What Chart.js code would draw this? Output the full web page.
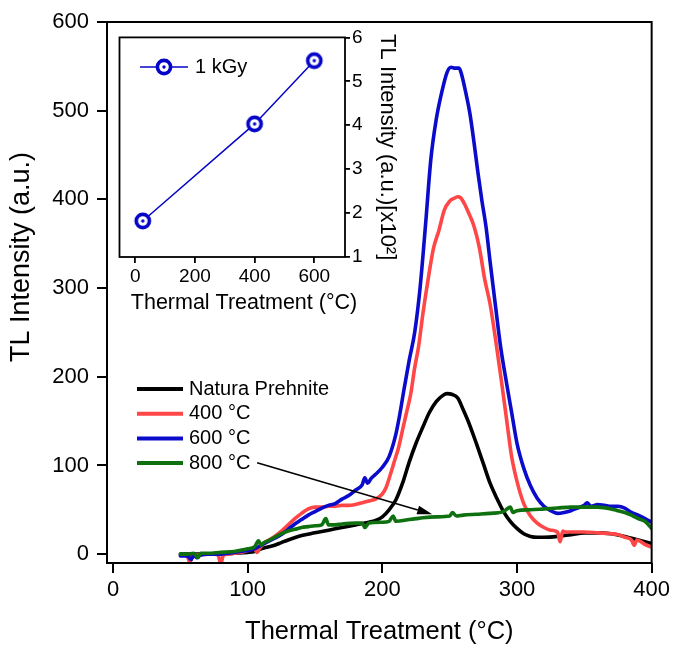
<!DOCTYPE html>
<html>
<head>
<meta charset="utf-8">
<title>TL glow curves</title>
<script src="https://cdn.jsdelivr.net/npm/chart.js@4.4.0/dist/chart.umd.min.js"></script>
<style>
  body { margin: 0; background: #fff; }
  #wrap { position: relative; width: 674px; height: 645px; }
  #inset { position: absolute; left: 110px; top: 24px; }
</style>
</head>
<body>
<div id="wrap">
  <canvas id="main" width="674" height="645"></canvas>
  <canvas id="inset" width="300" height="296"></canvas>
</div>
<script>
// glow curves: temperature (°C) and TL intensity (a.u.)
const naturalX = [50, 60, 70, 80, 90, 100, 105, 110, 115, 120, 125, 130, 140, 150, 160, 170, 180, 190, 195, 200, 205, 210, 215, 220, 225, 230, 235, 240, 245, 248, 252, 256, 260, 265, 270, 275, 280, 285, 290, 295, 300, 305, 310, 315, 320, 330, 340, 350, 360, 370, 380, 390, 400];
const naturalY = [0, 0, 0, 0, 1, 2, 3, 6, 8, 10, 13, 16, 21, 24, 27, 30, 33, 36, 38, 42, 50, 61, 80, 104, 125, 143, 160, 172, 179, 181, 180, 176, 163, 145, 124, 102, 80, 63, 48, 37, 29, 23, 20, 19, 19, 20, 22, 24, 24, 23, 20, 16, 12];

const t400X = [50, 55, 57, 59, 62, 65, 70, 75, 78, 80, 82, 85, 90, 95, 100, 105, 107, 109, 112, 115, 120, 125, 130, 135, 140, 145, 150, 155, 160, 165, 170, 175, 180, 185, 190, 195, 200, 203, 206, 209, 212, 215, 218, 221, 224, 227, 230, 234, 238, 242, 246, 250, 253, 256, 258, 261, 264, 268, 272, 276, 280, 284, 288, 292, 296, 300, 305, 310, 315, 320, 325, 330, 332, 334, 336, 340, 350, 360, 370, 375, 380, 385, 387, 389, 392, 395, 400];
const t400Y = [-1, -2, -9, -2, -1, -1, 0, 0, -1, -11, -1, 0, 1, 2, 4, 6, 2, 7, 12, 15, 20, 26, 33, 40, 46, 51, 53, 53, 54, 54, 55, 55, 56, 58, 60, 62, 68, 76, 90, 105, 120, 140, 160, 180, 210, 235, 270, 310, 345, 365, 388, 398, 401, 403, 402, 395, 385, 370, 346, 310, 282, 243, 200, 155, 110, 82, 57, 43, 35, 30, 27, 25, 14, 26, 25, 25, 25, 24, 23, 22, 19, 16, 10, 16, 14, 11, 8];

const t600X = [50, 55, 58, 60, 62, 65, 70, 80, 90, 100, 105, 110, 115, 120, 125, 130, 135, 140, 145, 150, 155, 160, 165, 170, 175, 180, 185, 187, 189, 192, 195, 200, 205, 210, 213, 216, 220, 224, 228, 232, 236, 240, 244, 248, 251, 254, 257, 259, 262, 265, 268, 271, 274, 277, 280, 284, 288, 292, 296, 300, 305, 310, 315, 320, 325, 330, 335, 340, 345, 350, 352, 355, 360, 365, 370, 375, 380, 385, 390, 395, 400];
const t600Y = [-2, -2, -6, -1, -4, -1, 0, 0, 2, 4, 6, 10, 14, 18, 22, 28, 34, 39, 44, 48, 52, 55, 57, 62, 66, 72, 78, 86, 80, 86, 90, 98, 110, 135, 158, 185, 219, 250, 300, 370, 445, 490, 520, 543, 549, 548, 548, 540, 520, 497, 465, 430, 398, 369, 330, 280, 232, 195, 160, 125, 97, 77, 63, 54, 49, 46, 47, 49, 52, 55, 58, 54, 56, 55, 54, 54, 52, 47, 44, 40, 36];

const t800X = [50, 55, 60, 63, 65, 70, 80, 90, 100, 105, 108, 110, 112, 115, 120, 125, 130, 135, 140, 145, 150, 155, 158, 160, 165, 170, 180, 185, 187, 190, 200, 205, 208, 210, 220, 225, 230, 240, 250, 252, 255, 260, 270, 280, 290, 295, 297, 300, 310, 320, 330, 340, 350, 360, 370, 375, 380, 385, 390, 395, 400];
const t800Y = [0, 0, 1, -4, 1, 1, 2, 3, 6, 8, 15, 10, 13, 15, 19, 23, 26, 28, 30, 31, 32, 33, 40, 33, 33, 34, 35, 35, 30, 35, 36, 37, 43, 37, 39, 40, 41, 42, 43, 47, 43, 44, 45, 46, 48, 53, 47, 49, 50, 51, 52, 53, 53, 53, 51, 49, 47, 44, 40, 37, 29];

const curveLabels = ['Natura Prehnite', '400 °C', '600 °C', '800 °C'];
const curveColors = ['#000000', '#FF4747', '#0B0BCB', '#0E700E'];

const mainXTicks = [0, 100, 200, 300, 400];
const mainYTicks = [0, 100, 200, 300, 400, 500, 600];

// arrow pointing from the 800 °C legend entry to its curve
const arrowFrom = [107, 103];
const arrowTo = [237, 45];

// inset: peak intensity after 1 kGy vs treatment temperature
const insetX = [25, 400, 600];
const insetY = [1.82, 4.03, 5.47];
const insetXTicks = [0, 200, 400, 600];
const insetYTicks = [1, 2, 3, 4, 5, 6];

const FONT = '"Liberation Sans", Arial, Helvetica, sans-serif';
Chart.defaults.font.family = FONT;
Chart.defaults.color = '#000';

function toPoints(xs, ys) {
  return xs.map((x, i) => ({ x: x, y: ys[i] }));
}

function ringMarker(color) {
  const c = document.createElement('canvas');
  c.width = 22; c.height = 22;
  const g = c.getContext('2d');
  g.beginPath();
  g.arc(11, 11, 6.6, 0, Math.PI * 2);
  g.fillStyle = '#fff';
  g.fill();
  g.lineWidth = 3.6;
  g.strokeStyle = color;
  g.stroke();
  g.beginPath();
  g.arc(11, 11, 1.7, 0, Math.PI * 2);
  g.fillStyle = color;
  g.fill();
  return c;
}

// closed box around the plot area
const framePlugin = {
  id: 'frame',
  afterDatasetsDraw(chart, args, opts) {
    const { ctx, chartArea: a } = chart;
    ctx.save();
    ctx.strokeStyle = '#000';
    ctx.lineWidth = opts.width || 2;
    ctx.strokeRect(a.left, a.top, a.right - a.left, a.bottom - a.top);
    ctx.restore();
  }
};

// axis titles that sit off the axis centre
const freeTitles = {
  id: 'freeTitles',
  afterDraw(chart, args, opts) {
    const ctx = chart.ctx;
    (opts.items || []).forEach(t => {
      ctx.save();
      ctx.font = t.font;
      ctx.fillStyle = '#000';
      ctx.textAlign = 'center';
      ctx.textBaseline = 'middle';
      ctx.translate(t.x, t.y);
      ctx.rotate(t.rotation || 0);
      ctx.fillText(t.text, 0, 0);
      ctx.restore();
    });
  }
};

// legend rows drawn as short line segments with the label to the right
const lineLegend = {
  id: 'lineLegend',
  afterDraw(chart, args, opts) {
    const ctx = chart.ctx;
    ctx.save();
    ctx.font = opts.font;
    ctx.textBaseline = 'middle';
    chart.data.datasets.forEach((ds, i) => {
      const y = opts.top + i * (opts.rowGap || 0);
      ctx.strokeStyle = ds.borderColor;
      ctx.lineWidth = opts.lineWidth || ds.borderWidth;
      ctx.beginPath();
      ctx.moveTo(opts.left, y);
      ctx.lineTo(opts.left + opts.lineLen, y);
      ctx.stroke();
      if (ds.pointStyle instanceof HTMLCanvasElement) {
        const m = ds.pointStyle;
        ctx.drawImage(m, opts.left + opts.lineLen / 2 - m.width / 2, y - m.height / 2);
      }
      ctx.fillStyle = '#000';
      ctx.fillText(ds.label, opts.left + opts.lineLen + opts.textGap, y);
    });
    ctx.restore();
  }
};

const arrowPlugin = {
  id: 'arrow',
  afterDatasetsDraw(chart) {
    const { ctx, scales: { x, y } } = chart;
    const x0 = x.getPixelForValue(arrowFrom[0]), y0 = y.getPixelForValue(arrowFrom[1]);
    const x1 = x.getPixelForValue(arrowTo[0]), y1 = y.getPixelForValue(arrowTo[1]);
    const ang = Math.atan2(y1 - y0, x1 - x0);
    const len = 15, half = 4.5;
    ctx.save();
    ctx.strokeStyle = '#000';
    ctx.fillStyle = '#000';
    ctx.lineWidth = 1.5;
    ctx.beginPath();
    ctx.moveTo(x0, y0);
    ctx.lineTo(x1 - len * Math.cos(ang), y1 - len * Math.sin(ang));
    ctx.stroke();
    ctx.translate(x1, y1);
    ctx.rotate(ang);
    ctx.beginPath();
    ctx.moveTo(0, 0);
    ctx.lineTo(-len, -half);
    ctx.lineTo(-len, half);
    ctx.closePath();
    ctx.fill();
    ctx.restore();
  }
};

const curveX = [naturalX, t400X, t600X, t800X];
const curveY = [naturalY, t400Y, t600Y, t800Y];

new Chart(document.getElementById('main'), {
  type: 'line',
  data: {
    datasets: curveLabels.map((label, i) => ({
      label: label,
      data: toPoints(curveX[i], curveY[i]),
      borderColor: curveColors[i],
      backgroundColor: curveColors[i],
      borderWidth: 3.6,
      pointRadius: 0,
      cubicInterpolationMode: 'monotone',
      borderJoinStyle: 'round',
      borderCapStyle: 'round',
      order: curveLabels.length - i
    }))
  },
  options: {
    responsive: false,
    animation: false,
    devicePixelRatio: 1,
    layout: { padding: { top: 22, right: 21, left: 0, bottom: 0 } },
    scales: {
      x: {
        type: 'linear',
        min: -4.5,
        max: 400,
        afterBuildTicks: s => { s.ticks = mainXTicks.map(v => ({ value: v })); },
        afterFit: s => { s.height = 82; },
        border: { display: false },
        grid: { drawOnChartArea: false, drawTicks: true, tickLength: 10, color: '#000', lineWidth: 2 },
        ticks: { font: { size: 22 }, padding: 4, maxRotation: 0 },
        title: { display: true, text: 'Thermal Treatment (°C)', font: { size: 25.5, lineHeight: 1 }, padding: { top: 0, bottom: 0 } }
      },
      y: {
        min: -10,
        max: 600,
        afterBuildTicks: s => { s.ticks = mainYTicks.map(v => ({ value: v })); },
        afterFit: s => { s.width = 107; },
        border: { display: false },
        grid: { drawOnChartArea: false, drawTicks: true, tickLength: 10, color: '#000', lineWidth: 2 },
        ticks: { font: { size: 22 }, padding: 8 },
        title: { display: false }
      }
    },
    plugins: {
      legend: { display: false },
      tooltip: { enabled: false },
      frame: { width: 2 },
      freeTitles: { items: [{ text: 'TL Intensity (a.u.)', x: 22, y: 257, rotation: -Math.PI / 2, font: '27px ' + FONT }] },
      lineLegend: { left: 137, top: 389, rowGap: 24.7, lineLen: 46, textGap: 6, lineWidth: 4, font: '20px ' + FONT }
    }
  },
  plugins: [framePlugin, arrowPlugin, lineLegend, freeTitles]
});

const insetBlue = '#0505C8';
new Chart(document.getElementById('inset'), {
  type: 'line',
  data: {
    datasets: [{
      label: '1 kGy',
      data: toPoints(insetX, insetY),
      borderColor: insetBlue,
      backgroundColor: '#fff',
      borderWidth: 1.5,
      pointStyle: ringMarker(insetBlue),
      pointRadius: 8
    }]
  },
  options: {
    responsive: false,
    animation: false,
    devicePixelRatio: 1,
    layout: { padding: { top: 8, left: 9, right: 0, bottom: 0 } },
    scales: {
      x: {
        type: 'linear',
        min: -53,
        max: 703,
        afterBuildTicks: s => { s.ticks = insetXTicks.map(v => ({ value: v })); },
        afterFit: s => { s.height = 63; },
        border: { display: false },
        grid: { drawOnChartArea: false, drawTicks: true, tickLength: 6, color: '#000', lineWidth: 1.8 },
        ticks: { font: { size: 19 }, padding: 2, maxRotation: 0 },
        title: { display: false }
      },
      y: {
        position: 'right',
        min: 1,
        max: 6,
        afterBuildTicks: s => { s.ticks = insetYTicks.map(v => ({ value: v })); },
        afterFit: s => { s.width = 65; },
        border: { display: false },
        grid: { drawOnChartArea: false, drawTicks: true, tickLength: 5, color: '#000', lineWidth: 1.8 },
        ticks: { font: { size: 19 }, padding: 2 },
        title: { display: true, text: 'TL Intensity (a.u.)[x10²]', font: { size: 22, lineHeight: 1 }, padding: { top: 12, bottom: 0 } }
      }
    },
    plugins: {
      legend: { display: false },
      tooltip: { enabled: false },
      frame: { width: 1.8 },
      freeTitles: { items: [{ text: 'Thermal Treatment (°C)', x: 134, y: 279, font: '21.5px ' + FONT }] },
      lineLegend: { left: 30, top: 43, lineLen: 48, textGap: 7, lineWidth: 1.5, font: '20px ' + FONT }
    }
  },
  plugins: [framePlugin, lineLegend, freeTitles]
});
</script>
</body>
</html>
